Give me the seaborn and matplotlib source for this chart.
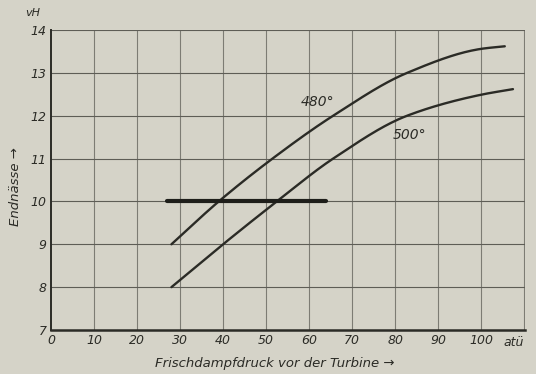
import numpy as np
import pandas as pd
import matplotlib
matplotlib.use("Agg")
import matplotlib.pyplot as plt
import seaborn as sns

# Data
druck_480 = [28, 39, 51.5, 65.6, 82.8, 100, 105.5]
naesse_480 = [9.0, 10.0, 11.0, 12.0, 13.0, 13.56, 13.62]
druck_500 = [28, 40, 52.5, 65.6, 82.8, 100, 107.4]
naesse_500 = [8.0, 9.0, 10.0, 11.0, 12.0, 12.49, 12.62]
grenze_x = [27, 64]
grenze_y = [10, 10]
x_ticks = [0, 10, 20, 30, 40, 50, 60, 70, 80, 90, 100]
y_ticks = [7, 8, 9, 10, 11, 12, 13, 14]

sns.set_theme(style="white")
plt.rcParams['font.family'] = ['DejaVu Sans']

bg = "#d5d3c8"
ink = "#2b2b26"
grid = "#7d7c74"

def smooth(xs, ys, n=200):
    xs = np.asarray(xs, float); ys = np.asarray(ys, float)
    t = np.linspace(xs[0], xs[-1], n)
    h = np.diff(xs); d = np.diff(ys) / h
    m = np.zeros_like(ys)
    m[0] = d[0]; m[-1] = d[-1]
    for i in range(1, len(xs) - 1):
        if d[i-1] * d[i] <= 0:
            m[i] = 0
        else:
            w1 = 2*h[i] + h[i-1]; w2 = h[i] + 2*h[i-1]
            m[i] = (w1 + w2) / (w1/d[i-1] + w2/d[i])
    out = np.empty_like(t)
    for k, tv in enumerate(t):
        i = min(np.searchsorted(xs, tv, side='right') - 1, len(xs) - 2)
        hh = h[i]; s = (tv - xs[i]) / hh
        h00 = 2*s**3 - 3*s**2 + 1; h10 = s**3 - 2*s**2 + s
        h01 = -2*s**3 + 3*s**2; h11 = s**3 - s**2
        out[k] = h00*ys[i] + h10*hh*m[i] + h01*ys[i+1] + h11*hh*m[i+1]
    return t, out

fig = plt.figure(figsize=(5.36, 3.74), dpi=100, facecolor=bg)
ax = fig.add_axes([51/536, 1 - 330/374, (525 - 51)/536, (330 - 30)/374])
ax.set_facecolor(bg)

x1, y1 = smooth(druck_480, naesse_480)
x2, y2 = smooth(druck_500, naesse_500)
df = pd.concat([
    pd.DataFrame({"p": x1, "n": y1, "T": "480°"}),
    pd.DataFrame({"p": x2, "n": y2, "T": "500°"}),
])
sns.lineplot(data=df, x="p", y="n", hue="T", palette=[ink, ink], linewidth=1.7,
             legend=False, ax=ax, sort=False, estimator=None)
sns.lineplot(x=grenze_x, y=grenze_y, color="#1e1e1a", linewidth=3.0, ax=ax)

ax.set_xlim(0, 110.2)
ax.set_ylim(7, 14)
ax.set_xticks(x_ticks)
ax.set_yticks(y_ticks)
ax.set_xticklabels([str(v) for v in x_ticks], fontstyle="italic", color=ink, fontsize=9)
ax.set_yticklabels([str(v) for v in y_ticks], fontstyle="italic", color=ink, fontsize=9)
ax.tick_params(length=0, pad=3)
for xv in list(range(10, 111, 10)):
    ax.axvline(xv, color=grid, linewidth=0.8, zorder=0)
for yv in y_ticks[1:]:
    ax.axhline(yv, color="#5e5d56", linewidth=0.8, zorder=0)
for side in ["top", "right"]:
    ax.spines[side].set_visible(False)
ax.spines["left"].set_color(ink); ax.spines["left"].set_linewidth(1.4)
ax.spines["bottom"].set_color(ink); ax.spines["bottom"].set_linewidth(1.8)

ax.set_xlabel("")
ax.set_ylabel("")
ax.text(62, 12.32, "480°", fontsize=10, fontstyle="italic", color=ink, ha="center", va="center")
ax.text(83.3, 11.56, "500°", fontsize=10, fontstyle="italic", color=ink, ha="center", va="center")

fig.text(33/536, 1 - 13/374, "vH", fontsize=8, fontstyle="italic", color=ink, ha="center", va="center")
fig.text(514/536, 1 - 343/374, "atü", fontsize=9, fontstyle="italic", color=ink, ha="center", va="center")
fig.text(16/536, 1 - 187/374, "Endnässe →", fontsize=9.5, fontstyle="italic", color=ink,
         rotation=90, ha="center", va="center")
fig.text(275/536, 1 - 364/374, "Frischdampfdruck vor der Turbine →", fontsize=9.5,
         fontstyle="italic", color=ink, ha="center", va="center")

fig.savefig("out.png", dpi=100, facecolor=bg)
